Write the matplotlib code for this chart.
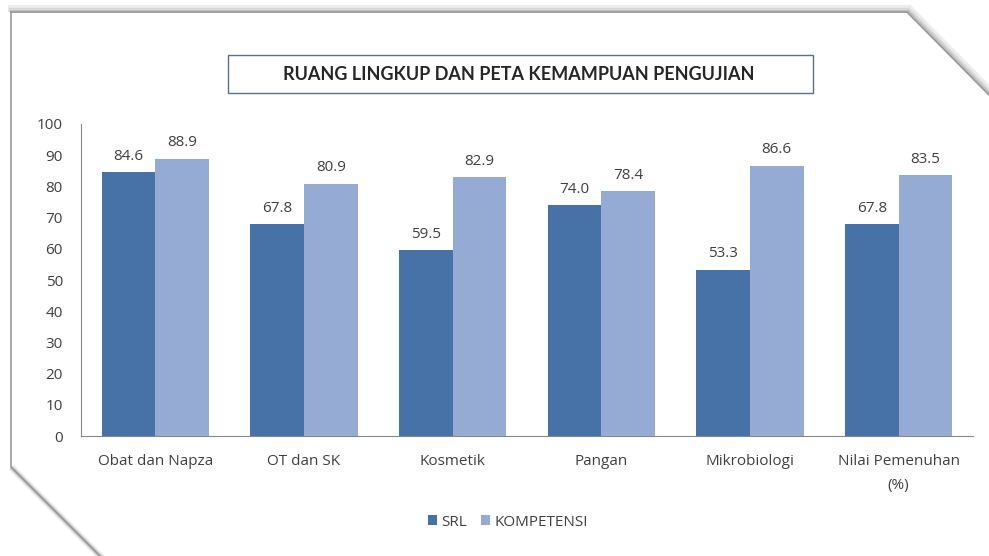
import numpy as np
import matplotlib
matplotlib.use("Agg")
from matplotlib import pyplot as plt
from matplotlib.patches import Rectangle

# data
kategori = ["Obat dan Napza", "OT dan SK", "Kosmetik", "Pangan", "Mikrobiologi", "Nilai Pemenuhan\n(%)"]
srl = [84.6, 67.8, 59.5, 74.0, 53.3, 67.8]
kompetensi = [88.9, 80.9, 82.9, 78.4, 86.6, 83.5]
judul = "RUANG LINGKUP DAN PETA KEMAMPUAN PENGUJIAN"

W, H = 989, 556
warna_srl = "#4672a8"
warna_komp = "#95abd4"
teks = "#404040"

plt.rcParams["font.family"] = ["Open Sans", "DejaVu Sans"]

fig = plt.figure(figsize=(W / 100, H / 100), dpi=100)

def fx(px):
    return px / W

def fy(py):
    return 1 - py / H

# bingkai dengan sudut terpotong + bayangan
bx = [11, 907, 989]
by = [12, 12, 95]
lx = [11, 11, 100]
ly = [12, 467, 556]
for off, c, lw in [(4, "#ececec", 5), (2.5, "#d8d8d8", 3), (1.2, "#c0c0c0", 2)]:
    fig.add_artist(plt.Line2D([fx(x + off * 0.7) for x in bx[1:]], [fy(y - off * 0.7) for y in by[1:]],
                              color=c, lw=lw, transform=fig.transFigure))
    fig.add_artist(plt.Line2D([fx(x) for x in bx[:2]], [fy(y - off) for y in by[:2]],
                              color=c, lw=lw, transform=fig.transFigure))
    fig.add_artist(plt.Line2D([fx(x + off * 0.7) for x in lx[1:]], [fy(y + off * 0.7) for y in ly[1:]],
                              color=c, lw=lw, transform=fig.transFigure))
fig.add_artist(plt.Line2D([fx(x) for x in bx], [fy(y) for y in by], color="#9a9a9a", lw=1.2,
                          transform=fig.transFigure))
fig.add_artist(plt.Line2D([fx(x) for x in lx], [fy(y) for y in ly], color="#9a9a9a", lw=1.2,
                          transform=fig.transFigure))

# kotak judul
fig.add_artist(Rectangle((fx(228), fy(93)), fx(813) - fx(228), fy(55) - fy(93), fill=False,
                         edgecolor="#5a6f8c", lw=1.0, transform=fig.transFigure))
fig.text(fx(519), fy(74), judul, ha="center", va="center", fontsize=13, fontweight="bold",
         color="#262626", family=["Lato", "DejaVu Sans"])

ax = fig.add_axes([fx(81), fy(436), fx(973) - fx(81), fy(124) - fy(436)])
x = np.arange(len(kategori))
lebar = 0.36
b1 = ax.bar(x - lebar / 2, srl, lebar, color=warna_srl, label="SRL")
b2 = ax.bar(x + lebar / 2, kompetensi, lebar, color=warna_komp, label="KOMPETENSI")

for bars, vals in [(b1, srl), (b2, kompetensi)]:
    for b, v in zip(bars, vals):
        ax.annotate(f"{v:.1f}", (b.get_x() + b.get_width() / 2, v), xytext=(0, 6),
                    textcoords="offset points", ha="center", va="bottom", fontsize=11, color=teks)

ax.set_xlim(-0.5, len(kategori) - 0.5)
ax.set_ylim(0, 100)
ax.set_yticks(range(0, 101, 10))
ax.set_xticks(x)
ax.set_xticklabels(kategori, linespacing=1.8)
ax.tick_params(axis="both", length=0, labelsize=11, labelcolor=teks)
ax.tick_params(axis="y", pad=13)
ax.tick_params(axis="x", pad=13)
for s in ["top", "right"]:
    ax.spines[s].set_visible(False)
ax.spines["left"].set_color("#888888")
ax.spines["bottom"].set_color("#888888")

fig.legend(handles=[b1, b2], loc="center", bbox_to_anchor=(fx(508), fy(522)), ncol=2, frameon=False,
           fontsize=11, handlelength=0.6, handleheight=0.6, handletextpad=0.3, columnspacing=0.9,
           labelcolor=teks)

fig.savefig("out.png", dpi=100, facecolor="white")
